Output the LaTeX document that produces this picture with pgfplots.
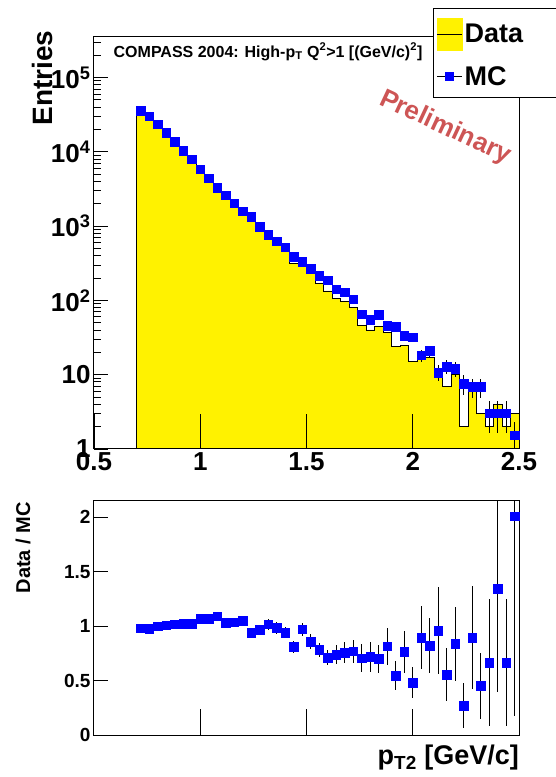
\documentclass[border=0pt]{standalone}
\usepackage{fontspec}
\setmainfont{Liberation Sans}
\usepackage{pgfplots}
\pgfplotsset{compat=1.18}
\definecolor{prelim}{RGB}{205,85,85}
\newcommand{\fs}[1]{\fontsize{#1pt}{#1pt}\selectfont\bfseries}

\begin{document}
\begin{tikzpicture}
% ---------------- upper panel: entries ----------------
\begin{axis}[
  at={(94pt,328pt)}, anchor=south west,
  scale only axis, width=425pt, height=412pt,
  xmin=0.5, xmax=2.5,
  ymode=log, ymin=1, ymax=3.5e5,
  axis on top,
  axis line style={line width=1pt},
  tick pos=left, tick align=inside,
  every tick/.style={black, line width=0.8pt},
  xtick={0.5,1,1.5,2,2.5}, xticklabels={0.5,1,1.5,2,2.5},
  ytick={1,10,100,1000,10000,100000},
  yticklabels={1,10,10\textsuperscript{2},10\textsuperscript{3},10\textsuperscript{4},10\textsuperscript{5}},
  minor ytick={2,3,4,5,6,7,8,9,20,30,40,50,60,70,80,90,200,300,400,500,600,700,800,900,
    2000,3000,4000,5000,6000,7000,8000,9000,20000,30000,40000,50000,60000,70000,80000,90000,200000,300000},
  xtick style={/pgfplots/major tick length=35pt},
  ytick style={/pgfplots/major tick length=14pt},
  minor tick length=7pt,
  /pgf/number format/assume math mode=true,
  tick label style={font=\fs{26}},
  ylabel={Entries},
  ylabel style={font=\fs{28}, at={(axis description cs:-0.122,0.90)}, anchor=center},
  legend style={at={(axis description cs:0.798,1.070)}, anchor=north west,
    draw=black, fill=white, line width=1pt, font=\fs{27},
    inner xsep=3pt, inner ysep=9pt, row sep=14pt,
    nodes={inner sep=2pt}},
  legend cell align=left,
]
\addplot[const plot, fill=yellow, draw=black, line width=0.8pt,
  legend image code/.code={\fill[yellow] (0pt,-16pt) rectangle (25pt,16pt);
    \draw[black, line width=1pt] (0pt,0pt) -- (25pt,0pt);}]
coordinates {
(0.70,34800) (0.74,29500) (0.78,23400) (0.82,18300) (0.86,13950)
(0.90,10550) (0.94,8050) (0.98,6200) (1.02,4670) (1.06,3600)
(1.10,2670) (1.14,2110) (1.18,1670) (1.22,1250) (1.26,954)
(1.30,780) (1.34,612) (1.38,485) (1.42,316) (1.46,324)
(1.50,229) (1.54,168) (1.58,134) (1.62,105) (1.66,98)
(1.70,80) (1.74,46) (1.78,40) (1.82,45) (1.86,37)
(1.90,24) (1.94,25) (1.98,15) (2.02,16) (2.06,17)
(2.10,10) (2.14,7) (2.18,10) (2.22,2) (2.26,6)
(2.30,3) (2.34,2) (2.38,4) (2.42,2) (2.46,3) (2.50,3)
} \closedcycle;
\addlegendentry{Data\hspace*{40pt}}

\addplot[only marks, mark=square*, mark size=4.25pt, color=blue,
  mark options={draw=blue, fill=blue},
  legend image code/.code={\draw[black, line width=1pt] (0pt,0pt) -- (25pt,0pt);
    \fill[blue] (8.5pt,-4.25pt) rectangle (16.5pt,4.25pt);},
  error bars/.cd, y dir=both, y explicit, error mark=none,
  error bar style={black, line width=1pt}]
coordinates {
(0.72,35500) +- (0,0) (0.76,30300) +- (0,0) (0.80,23400) +- (0,0)
(0.84,18100) +- (0,0) (0.88,13700) +- (0,0) (0.92,10300) +- (0,0)
(0.96,7880) +- (0,0) (1.00,5800) +- (0,0) (1.04,4380) +- (0,0)
(1.08,3295) +- (0,0) (1.12,2595) +- (0,0) (1.16,2035) +- (0,0)
(1.20,1590) +- (0,0) (1.24,1330) +- (0,0) (1.28,985) +- (0,0)
(1.32,766) +- (0,0) (1.36,622) +- (0,0) (1.40,517) +- (0,0)
(1.44,389) +- (0,0) (1.48,333) +- (0,0) (1.52,267) +- (0,0)
(1.56,215) +- (0,0) (1.60,188) +- (0,0) (1.64,142) +- (0,0)
(1.68,129) +- (0,0) (1.72,104) +- (0,0) (1.76,65.3) +- (0,0)
(1.80,55.3) +- (0,0) (1.84,64) +- (0,0) (1.88,45.9) +- (0,0)
(1.92,44.1) +- (0,0) (1.96,33.3) +- (0,4.5) (2.00,32) +- (0,4.4)
(2.04,18.3) +- (0,3.3) (2.08,20.9) +- (0,3.6) (2.12,10.7) +- (0,2.6)
(2.16,12.9) +- (0,2.7) (2.20,12.0) +- (0,2.7) (2.24,7.6) +- (0,2.2)
(2.28,6.85) +- (0,2.0) (2.32,6.85) +- (0,2.0) (2.36,3.02) +- (0,1.4)
(2.40,3.02) +- (0,1.4) (2.44,3.02) +- (0,1.4) (2.48,1.53) +- (0,0.75)
};
\addlegendentry{MC\hspace*{40pt}}

\node[anchor=base west, font=\fs{16}] at (axis description cs:0.038,0.951)
  {COMPASS 2004: High-p\textsubscript{T} Q\textsuperscript{2}>1 [(GeV/c)\textsuperscript{2}]};
\node[rotate=-25, text=prelim, font=\fs{26}, inner sep=0pt] at (axis description cs:0.826,0.779) {Preliminary};
\end{axis}

% ---------------- lower panel: ratio ----------------
\begin{axis}[
  at={(94pt,42pt)}, anchor=south west,
  scale only axis, width=425pt, height=234pt,
  xmin=0.5, xmax=2.5, ymin=0, ymax=2.15,
  axis line style={line width=1pt},
  tick pos=left, tick align=inside,
  every tick/.style={black, line width=0.8pt},
  xtick={1,1.5,2}, xticklabels={},
  ytick={0,0.5,1,1.5,2}, yticklabels={0,0.5,1,1.5,2},
  xtick style={/pgfplots/major tick length=26pt},
  ytick style={/pgfplots/major tick length=14pt},
  /pgf/number format/assume math mode=true,
  tick label style={font=\fs{19}},
  ylabel={Data / MC},
  ylabel style={font=\fs{20}, at={(axis description cs:-0.167,0.80)}, anchor=center},
  xlabel={p\textsubscript{T2} [GeV/c]},
  xlabel style={font=\fs{27}, inner sep=0pt, at={(axis description cs:1,-0.128)}, anchor=base east},
]
\addplot[only marks, mark=square*, mark size=4.25pt, color=blue,
  mark options={draw=blue, fill=blue},
  error bars/.cd, y dir=both, y explicit, error mark=none,
  error bar style={black, line width=1.3pt}]
coordinates {
(0.72,0.981) +- (0,0.008) (0.76,0.975) +- (0,0.008) (0.80,0.999) +- (0,0.009)
(0.84,1.009) +- (0,0.011) (0.88,1.018) +- (0,0.012) (0.92,1.024) +- (0,0.014)
(0.96,1.021) +- (0,0.016) (1.00,1.070) +- (0,0.019) (1.04,1.067) +- (0,0.022)
(1.08,1.092) +- (0,0.026) (1.12,1.030) +- (0,0.029) (1.16,1.036) +- (0,0.032)
(1.20,1.052) +- (0,0.037) (1.24,0.938) +- (0,0.038) (1.28,0.969) +- (0,0.044)
(1.32,1.018) +- (0,0.051) (1.36,0.984) +- (0,0.056) (1.40,0.938) +- (0,0.050)
(1.44,0.813) +- (0,0.055) (1.48,0.972) +- (0,0.060) (1.52,0.859) +- (0,0.065)
(1.56,0.782) +- (0,0.065) (1.60,0.712) +- (0,0.065) (1.64,0.739) +- (0,0.086)
(1.68,0.757) +- (0,0.095) (1.72,0.770) +- (0,0.107) (1.76,0.705) +- (0,0.127)
(1.80,0.718) +- (0,0.141) (1.84,0.699) +- (0,0.129) (1.88,0.816) +- (0,0.169)
(1.92,0.546) +- (0,0.132) (1.96,0.764) +- (0,0.190) (2.00,0.481) +- (0,0.144)
(2.04,0.895) +- (0,0.288) (2.08,0.819) +- (0,0.252) (2.12,0.960) +- (0,0.399)
(2.16,0.555) +- (0,0.247) (2.20,0.840) +- (0,0.340) (2.24,0.270) +- (0,0.210)
(2.28,0.895) +- (0,0.470) (2.32,0.451) +- (0,0.300) (2.36,0.666) +- (0,0.580)
(2.40,1.343) +- (0,0.950) (2.44,0.666) +- (0,0.580) (2.48,2.011) +- (0,1.840)
};
\end{axis}
\pgfresetboundingbox
\path (0pt,0pt) rectangle (556pt,777pt);
\end{tikzpicture}
\end{document}
